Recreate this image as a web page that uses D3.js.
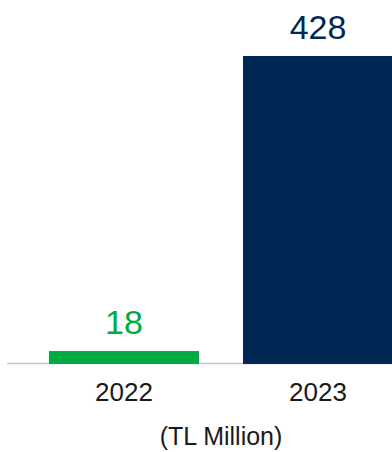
<!DOCTYPE html>
<html>
<head>
<meta charset="utf-8">
<script src="https://cdn.jsdelivr.net/npm/d3@7"></script>
<style>
  html, body { margin: 0; padding: 0; background: #fff; }
  svg { display: block; font-family: "Liberation Sans", Arial, sans-serif; }
</style>
</head>
<body>
<svg id="chart" width="392" height="452"></svg>
<script>
// Yearly totals, TL million
const years = ["2022", "2023"];
const values = [18, 428];
const barColors = ["#00ac41", "#002855"];
const unitLabel = "(TL Million)";

const svg = d3.select("#chart");
const baseY = 364;

const x = d3.scaleBand()
  .domain(years)
  .range([27, 415])
  .paddingInner(44 / 194)
  .paddingOuter(22 / 194);

const y = d3.scaleLinear()
  .domain([0, d3.max(values)])
  .range([baseY, 56]);

// baseline
svg.append("line")
  .attr("x1", 7).attr("x2", 392)
  .attr("y1", baseY - 0.5).attr("y2", baseY - 0.5)
  .attr("stroke", "#c8c8c8")
  .attr("stroke-width", 1.5);

// bars
svg.selectAll("rect.bar")
  .data(years)
  .join("rect")
  .attr("class", "bar")
  .attr("x", d => x(d))
  .attr("width", x.bandwidth())
  .attr("y", (d, i) => y(values[i]))
  .attr("height", (d, i) => baseY - y(values[i]))
  .attr("fill", (d, i) => barColors[i]);

// value labels
svg.selectAll("text.value")
  .data(years)
  .join("text")
  .attr("class", "value")
  .attr("x", d => x(d) + x.bandwidth() / 2)
  .attr("y", (d, i) => y(values[i]) - 17)
  .attr("text-anchor", "middle")
  .attr("font-size", 34)
  .attr("fill", (d, i) => barColors[i])
  .text((d, i) => values[i]);

// category axis
const xAxis = d3.axisBottom(x).tickSize(0).tickPadding(0);
const gx = svg.append("g")
  .attr("transform", `translate(0,${baseY})`)
  .call(xAxis);
gx.select(".domain").remove();
gx.selectAll("text")
  .attr("font-family", "Liberation Sans, Arial, sans-serif")
  .attr("font-size", 26)
  .attr("fill", "#1a1a1a")
  .attr("dy", null)
  .attr("y", 37);

// unit caption
svg.append("text")
  .attr("x", 221)
  .attr("y", 445)
  .attr("text-anchor", "middle")
  .attr("font-size", 25)
  .attr("fill", "#1a1a1a")
  .text(unitLabel);
</script>
</body>
</html>
